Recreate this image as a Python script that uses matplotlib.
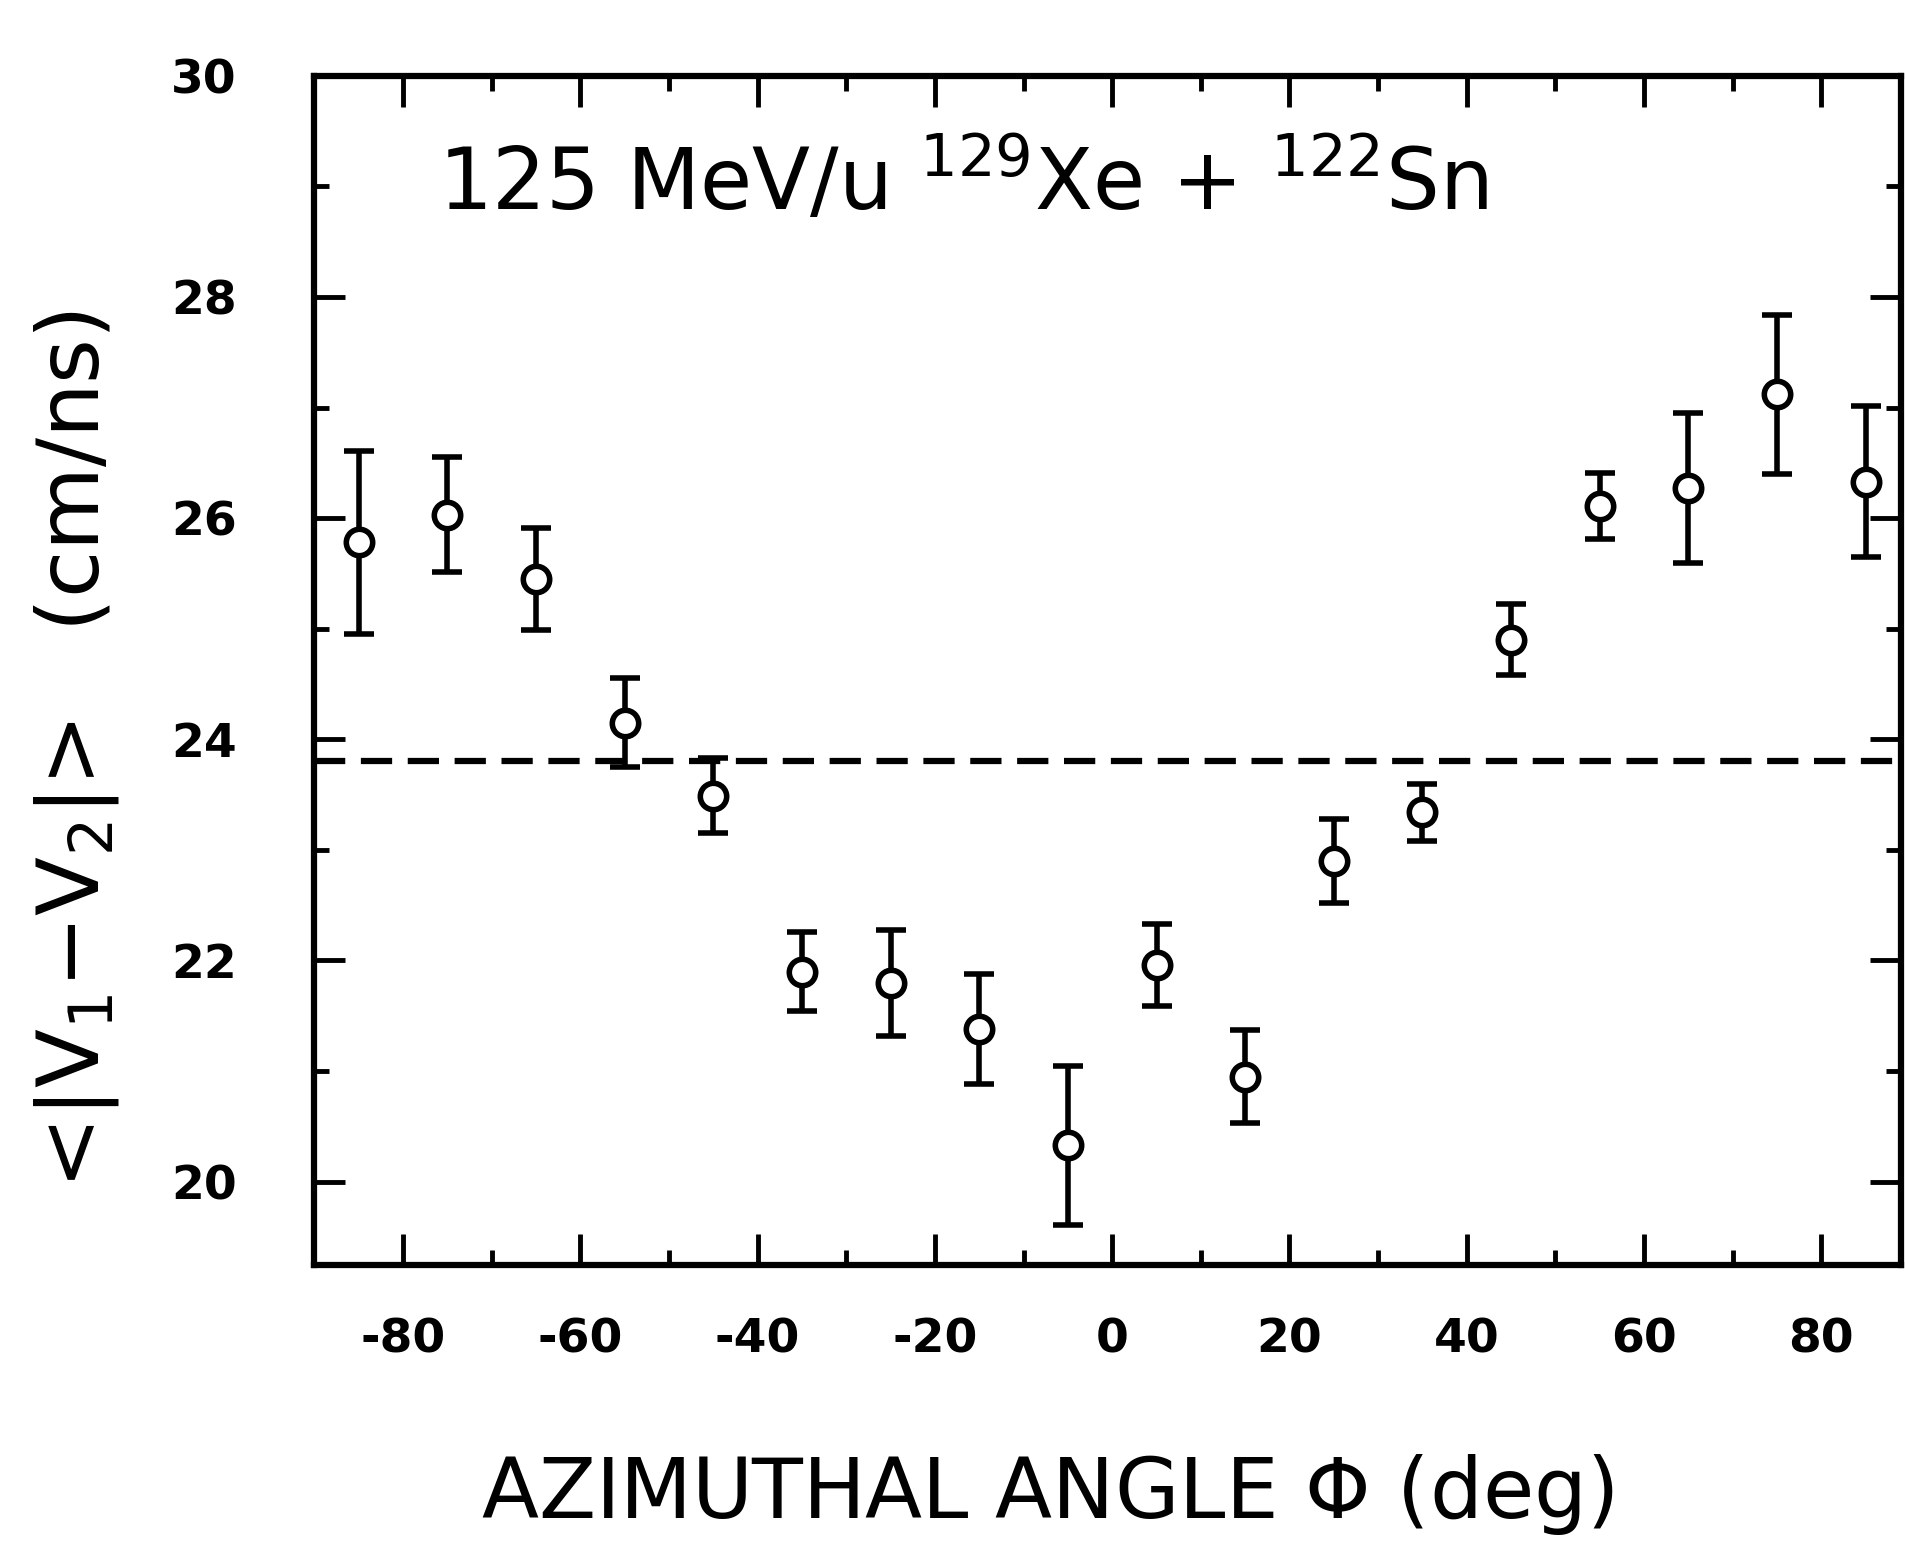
import matplotlib.pyplot as plt
import numpy as np

# datos
angulos = [-85, -75, -65, -55, -45, -35, -25, -15, -5, 5, 15, 25, 35, 45, 55, 65, 75, 85]
velocidad = [25.78, 26.03, 25.45, 24.15, 23.49, 21.90, 21.80, 21.38, 20.33, 21.96,
             20.95, 22.90, 23.34, 24.90, 26.11, 26.27, 27.12, 26.33]
errores = [0.83, 0.52, 0.46, 0.40, 0.34, 0.36, 0.48, 0.50, 0.72, 0.37,
           0.42, 0.38, 0.26, 0.32, 0.30, 0.68, 0.72, 0.68]
promedio = 23.8

xticks = [-80, -60, -40, -20, 0, 20, 40, 60, 80]
xtick_labels = ['-80', '-60', '-40', '-20', '0', '20', '40', '60', '80']
yticks = [20, 22, 24, 26, 28, 30]
ytick_labels = ['20', '22', '24', '26', '28', '30']

fig = plt.figure(figsize=(19.05, 15.46), dpi=100)
ax = fig.add_axes([0.165, 0.182, 0.833, 0.769])

ax.axhline(promedio, color='black', lw=4.5, dashes=(5, 2.5))
ax.errorbar(angulos, velocidad, yerr=errores, fmt='o', color='black',
            mfc='white', mec='black', ms=19, mew=4, elinewidth=4,
            capsize=11, capthick=5)

ax.set_xlim(-90, 89)
ax.set_ylim(19.25, 30)
ax.set_xticks(xticks)
ax.set_xticklabels(xtick_labels)
ax.set_yticks(yticks)
ax.set_yticklabels(ytick_labels)
ax.set_xticks(np.arange(-90, 90, 10), minor=True)
ax.set_yticks(np.arange(20, 30, 1), minor=True)

ax.tick_params(which='both', direction='in', top=True, right=True, width=3.5)
ax.tick_params(which='major', length=22, labelsize=34)
ax.tick_params(axis='x', which='major', pad=38)
ax.tick_params(axis='y', which='major', pad=56)
ax.tick_params(which='minor', length=11)
for lbl in ax.get_xticklabels() + ax.get_yticklabels():
    lbl.set_fontweight('bold')
for s in ax.spines.values():
    s.set_linewidth(4.5)

ax.text(0.078, 0.91, r'125 MeV/u $^{129}$Xe + $^{122}$Sn', transform=ax.transAxes,
        fontsize=61, va='center', ha='left')
ax.set_xlabel(r'AZIMUTHAL ANGLE $\Phi$ (deg)', fontsize=60)
ax.xaxis.set_label_coords(0.462, -0.158)
ax.set_ylabel(r'<|V$_1$$-$V$_2$|>   (cm/ns)', fontsize=62)
ax.yaxis.set_label_coords(-0.122, 0.433)

plt.savefig('out.png', dpi=100)
